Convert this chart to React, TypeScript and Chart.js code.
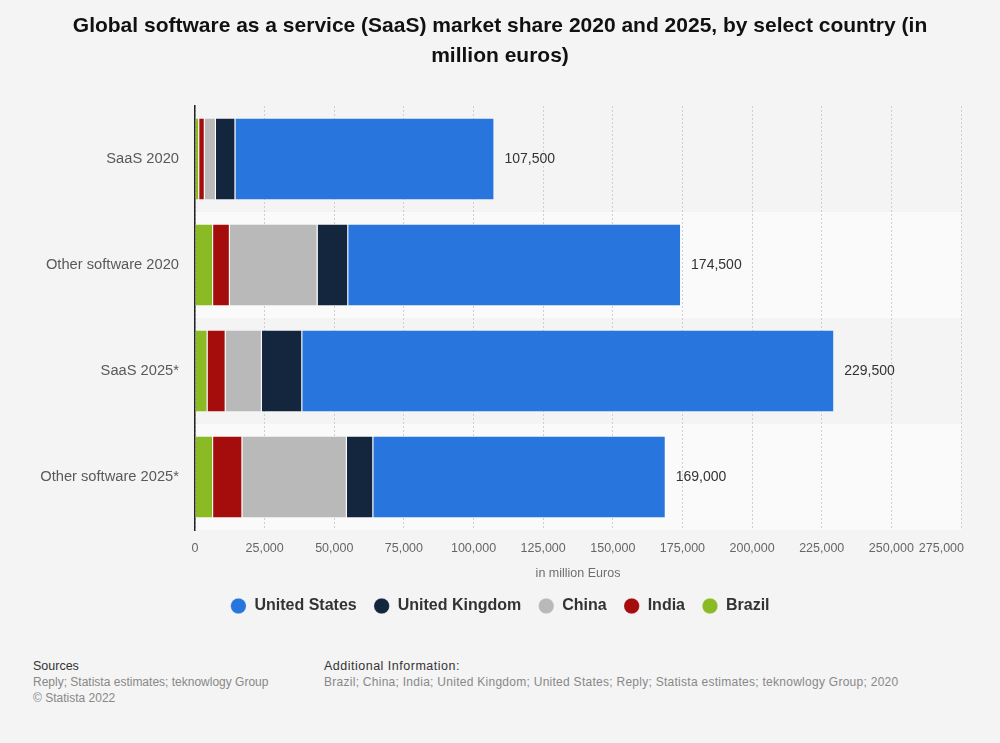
import React, { useEffect, useRef } from "react";
import { Chart, registerables } from "chart.js";

Chart.register(...registerables);

const categories = ["SaaS 2020", "Other software 2020", "SaaS 2025*", "Other software 2025*"];
const brazil = [1500, 6500, 4500, 6500];
const india = [2000, 6000, 6500, 10500];
const china = [4000, 31500, 13000, 37500];
const unitedKingdom = [7000, 11000, 14500, 9500];
const unitedStates = [93000, 119500, 191000, 105000];
const xTickValues = [0, 25000, 50000, 75000, 100000, 125000, 150000, 175000, 200000, 225000, 250000, 275000];

const FONT = "'Liberation Sans', Arial, Helvetica, sans-serif";
const fmt = (v: number) => v.toLocaleString("en-US");

const series = [
  { label: "Brazil", data: brazil, color: "#8aba24" },
  { label: "India", data: india, color: "#a50c0c" },
  { label: "China", data: china, color: "#b9b9b9" },
  { label: "United Kingdom", data: unitedKingdom, color: "#13263d" },
  { label: "United States", data: unitedStates, color: "#2876dd" },
];

const totals = categories.map((_, i) => series.reduce((s, d) => s + d.data[i], 0));

const bandsPlugin = {
  id: "bands",
  beforeDraw(chart: any) {
    const { ctx, chartArea, scales } = chart;
    const y = scales.y;
    const half = (y.getPixelForValue(1) - y.getPixelForValue(0)) / 2;
    ctx.save();
    categories.forEach((_, i) => {
      if (i % 2 === 1) {
        const c = y.getPixelForValue(i);
        ctx.fillStyle = "#fafafa";
        ctx.fillRect(chartArea.left, c - half, chartArea.width, 2 * half);
      }
    });
    ctx.restore();
  },
};

const labelsPlugin = {
  id: "valueLabels",
  afterDraw(chart: any) {
    const { ctx, chartArea, scales } = chart;
    ctx.save();
    const meta = chart.getDatasetMeta(series.length - 1);
    ctx.font = `14px ${FONT}`;
    ctx.fillStyle = "#333333";
    ctx.textAlign = "left";
    ctx.textBaseline = "middle";
    meta.data.forEach((el: any, i: number) => {
      ctx.fillText(fmt(totals[i]), el.x + 10, el.y);
    });
    const x = scales.x;
    ctx.font = `12.5px ${FONT}`;
    ctx.fillStyle = "#666666";
    x.ticks.forEach((t: any) => {
      const px = x.getPixelForValue(t.value);
      const label = fmt(t.value);
      const w = ctx.measureText(label).width;
      let left = px - w / 2;
      if (left + w > chartArea.right + 3) left = chartArea.right + 3 - w;
      ctx.fillText(label, left, chartArea.bottom + 19);
    });
    ctx.restore();
  },
};

function ChartView() {
  const ref = useRef<HTMLCanvasElement | null>(null);
  useEffect(() => {
    if (!ref.current) return;
    const chart = new Chart(ref.current, {
      type: "bar",
      data: {
        labels: categories,
        datasets: series.map((s) => ({
          label: s.label,
          data: s.data,
          backgroundColor: s.color,
          borderColor: "#ffffff",
          borderWidth: { top: 0, bottom: 0, left: 0, right: 1 },
          borderSkipped: false,
          barPercentage: 0.765,
          categoryPercentage: 1,
        })),
      },
      options: {
        indexAxis: "y",
        animation: false,
        responsive: false,
        devicePixelRatio: 1,
        layout: { padding: { left: 0, right: 0, top: 0, bottom: 8 } },
        scales: {
          x: {
            stacked: true,
            min: 0,
            max: 275000,
            afterBuildTicks: (scale: any) => {
              scale.ticks = xTickValues.map((v) => ({ value: v }));
            },
            afterFit: (scale: any) => {
              scale.paddingLeft = 0;
              scale.paddingRight = 39;
            },
            ticks: {
              color: "rgba(0,0,0,0)",
              padding: 10.5,
              font: { family: FONT, size: 12.5 },
              callback: (v: any) => fmt(Number(v)),
              maxRotation: 0,
              autoSkip: false,
            },
            grid: { color: "#cfcfcf", drawTicks: false, lineWidth: 1 },
            border: { display: false, dash: [2, 2] },
            title: {
              display: true,
              text: "in million Euros",
              color: "#6f6f6f",
              font: { family: FONT, size: 12.5 },
              padding: { top: 0, bottom: 0 },
            },
          },
          y: {
            stacked: true,
            afterFit: (scale: any) => {
              scale.width = 195;
              scale.paddingTop = 0;
              scale.paddingBottom = 0;
            },
            ticks: {
              color: "#595959",
              padding: 16,
              font: { family: FONT, size: 14.7 },
            },
            grid: { display: false, drawTicks: false },
            border: { display: true, color: "#222222", width: 1.5 },
          },
        },
        plugins: {
          title: {
            display: true,
            text: [
              "Global software as a service (SaaS) market share 2020 and 2025, by select country (in",
              "million euros)",
            ],
            color: "#111111",
            font: { family: FONT, size: 21, weight: "bold", lineHeight: "30px" },
            padding: { top: 11, bottom: 35 },
          },
          legend: {
            display: true,
            position: "bottom",
            reverse: true,
            labels: {
              usePointStyle: true,
              pointStyle: "circle",
              boxWidth: 16,
              boxHeight: 11,
              padding: 17,
              color: "#333333",
              font: { family: FONT, size: 16, weight: "bold" },
            },
          },
          tooltip: { enabled: false },
        },
      },
      plugins: [bandsPlugin, labelsPlugin],
    } as any);
    return () => chart.destroy();
  }, []);
  return <canvas ref={ref} width={1000} height={632} style={{ display: "block", width: 1000, height: 632 }} />;
}

export default function App() {
  const small: React.CSSProperties = { fontSize: 12, color: "#888888", lineHeight: "16px" };
  const head: React.CSSProperties = { fontSize: 12.5, color: "#333333", lineHeight: "16px" };
  return (
    <div
      style={{
        position: "fixed",
        left: 0,
        top: 0,
        width: 1000,
        height: 743,
        background: "#f4f4f4",
        fontFamily: FONT,
        overflow: "hidden",
      }}
    >
      <ChartView />
      <div style={{ position: "absolute", left: 33, top: 658 }}>
        <div style={head}>Sources</div>
        <div style={small}>Reply; Statista estimates; teknowlogy Group</div>
        <div style={small}>© Statista 2022</div>
      </div>
      <div style={{ position: "absolute", left: 324, top: 658 }}>
        <div style={{ ...head, letterSpacing: 0.5 }}>Additional Information:</div>
        <div style={{ ...small, letterSpacing: 0.27 }}>
          Brazil; China; India; United Kingdom; United States; Reply; Statista estimates; teknowlogy Group; 2020
        </div>
      </div>
    </div>
  );
}
